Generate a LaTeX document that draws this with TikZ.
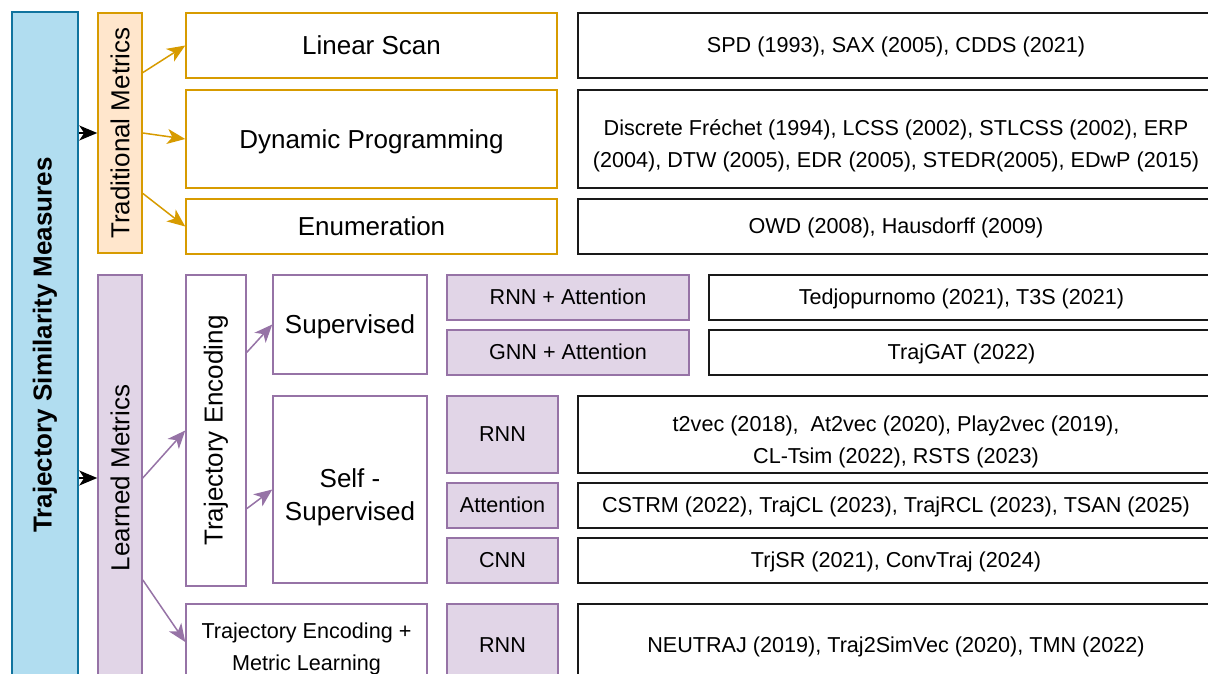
\documentclass[tikz,border=0pt]{standalone}
\usepackage{fontspec}
\setmainfont{Liberation Sans}
\usepackage{graphicx}
\usetikzlibrary{arrows.meta}
\usetikzlibrary{calc}

\definecolor{tsmFill}{HTML}{B1DDF0}
\definecolor{tsmLine}{HTML}{10739E}
\definecolor{orFill}{HTML}{FFE6CC}
\definecolor{orLine}{HTML}{D79B00}
\definecolor{puFill}{HTML}{E1D5E7}
\definecolor{puLine}{HTML}{9673A6}

% struts so that every line sits like the font's line box
\newcommand{\ls}{\rule[-0.212em]{0pt}{1.117em}}
\newcommand{\lt}{\rule{0pt}{\dimexpr1.117em+6pt\relax}}

\begin{document}
\begin{tikzpicture}[x=1pt, y=-1pt,
    box/.style={draw, line width=1.5pt, inner sep=0pt, align=center, text=black},
    htext/.style={execute at begin node=\ls},
    big/.style={font=\fontsize{26}{33}\selectfont},
    small/.style={font=\fontsize{21.6}{32}\selectfont},
    refbox/.style={box, htext, draw=black!90, line width=1.8pt, small},
    orbox/.style={box, htext, draw=orLine, big},
    orcat/.style={box, draw=orLine, fill=orFill, big},
    pubox/.style={box, htext, draw=puLine},
    pucat/.style={box, htext, draw=puLine, fill=puFill, small},
    tip/.style={-{Stealth[length=18pt, width=15pt, inset=5pt]}, line width=1.5pt},
    barrow/.style={tip, draw=black},
    oarrow/.style={tip, draw=orLine, fill=orLine},
    parrow/.style={tip, draw=puLine, fill=puLine}]
  \useasboundingbox (0,0) rectangle (1208,673);
  \clip (0,0) rectangle (1208,673);

  % root
  \node[box, draw=tsmLine, fill=tsmFill, minimum width=66pt, minimum height=666pt,
        font=\fontsize{26}{33}\selectfont\bfseries] (tsm) at (45,345) {\rotatebox{90}{Trajectory Similarity Measures}};

  % traditional metrics
  \node[orcat, minimum width=44pt, minimum height=240pt] (trad) at (120,133) {\rotatebox{90}{Traditional Metrics}};
  \node[orbox, minimum width=371pt, minimum height=65pt] (lin) at (371.5,45.5) {Linear Scan};
  \node[orbox, minimum width=371pt, minimum height=98pt] (dp) at (371.5,139) {Dynamic Programming};
  \node[orbox, minimum width=371pt, minimum height=55pt] (enu) at (371.5,226.5) {Enumeration};

  \node[refbox, minimum width=636pt, minimum height=65pt] (linref) at (896,45.5) {SPD (1993), SAX (2005), CDDS (2021)};
  \node[refbox, minimum width=636pt, minimum height=98pt] (dpref) at (896,139) {\lt Discrete Fréchet (1994), LCSS (2002), STLCSS (2002), ERP\\\ls(2004), DTW (2005), EDR (2005), STEDR(2005), EDwP (2015)};
  \node[refbox, minimum width=636pt, minimum height=55pt] (enuref) at (896,226.5) {OWD (2008), Hausdorff (2009)};

  % learned metrics
  \node[box, draw=puLine, fill=puFill, big, minimum width=44pt, minimum height=406pt] (learn) at (120,478) {\rotatebox{90}{Learned Metrics}};
  \node[box, draw=puLine, big, minimum width=60pt, minimum height=311pt] (enc) at (216,430.5) {\rotatebox{90}{Trajectory Encoding}};
  \node[pubox, big, minimum width=154pt, minimum height=99pt] (sup) at (350,324.5) {Supervised};
  \node[pubox, big, minimum width=154pt, minimum height=187pt] (ssup) at (350,489.5) {\lt Self -\\\ls Supervised};
  \node[pubox, small, minimum width=241pt, minimum height=76pt] (encml) at (306.5,642) {\lt Trajectory Encoding +\\\ls Metric Learning};

  \node[pucat, minimum width=242pt, minimum height=45pt] (rnnatt) at (568,297.5) {RNN + Attention};
  \node[pucat, minimum width=242pt, minimum height=45pt] (gnnatt) at (568,352.5) {GNN + Attention};
  \node[pucat, minimum width=111pt, minimum height=77pt] (rnn) at (502.5,434.5) {RNN};
  \node[pucat, minimum width=111pt, minimum height=45pt] (att) at (502.5,505.5) {Attention};
  \node[pucat, minimum width=111pt, minimum height=45pt] (cnn) at (502.5,560.5) {CNN};
  \node[pucat, minimum width=111pt, minimum height=82pt] (rnnml) at (502.5,645) {RNN};

  \node[refbox, minimum width=505pt, minimum height=45pt] (rnnattref) at (961.5,297.5) {Tedjopurnomo (2021), T3S (2021)};
  \node[refbox, minimum width=505pt, minimum height=45pt] (gnnattref) at (961.5,352.5) {TrajGAT (2022)};
  \node[refbox, minimum width=636pt, minimum height=77pt] (rnnref) at (896,434.5) {\lt t2vec (2018), \ At2vec (2020), Play2vec (2019),\\\ls CL-Tsim (2022), RSTS (2023)};
  \node[refbox, minimum width=636pt, minimum height=45pt] (attref) at (896,505.5) {CSTRM (2022), TrajCL (2023), TrajRCL (2023), TSAN (2025)};
  \node[refbox, minimum width=636pt, minimum height=45pt] (cnnref) at (896,560.5) {TrjSR (2021), ConvTraj (2024)};
  \node[refbox, minimum width=636pt, minimum height=82pt] (rnnmlref) at (896,645) {NEUTRAJ (2019), Traj2SimVec (2020), TMN (2022)};

  % connectors
  \draw[barrow] (tsm.east |- trad.west) -- (trad.west);
  \draw[barrow] (tsm.east |- learn.west) -- (learn.west);

  \draw[oarrow] ($(trad.north east)!0.25!(trad.south east)$) -- (lin.west);
  \draw[oarrow] (trad.east) -- (dp.west);
  \draw[oarrow] ($(trad.north east)!0.75!(trad.south east)$) -- (enu.west);

  \draw[parrow] (learn.east) -- (enc.west);
  \draw[parrow] ($(learn.north east)!0.75!(learn.south east)$) -- (encml.west);
  \draw[parrow] ($(enc.north east)!0.25!(enc.south east)$) -- (sup.west);
  \draw[parrow] ($(enc.north east)!0.75!(enc.south east)$) -- (ssup.west);
\end{tikzpicture}
\end{document}
